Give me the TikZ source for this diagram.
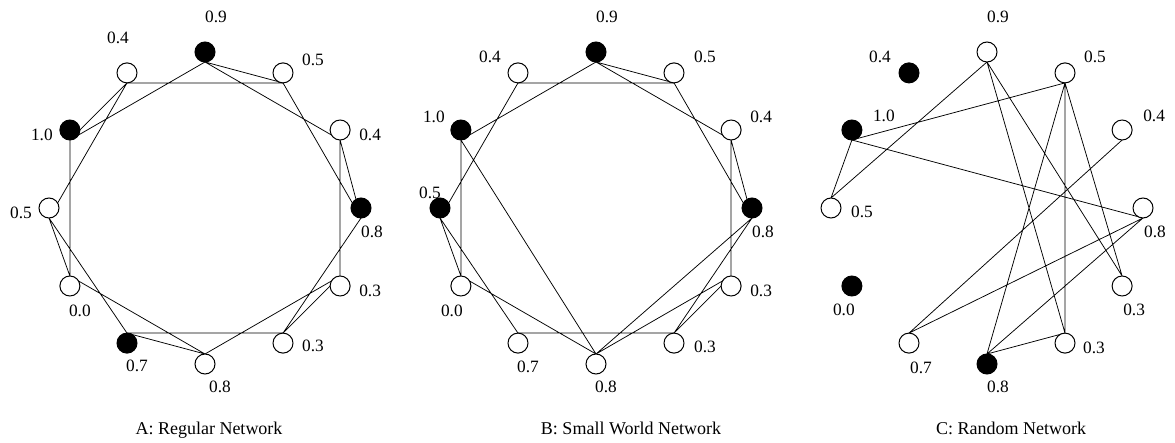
\documentclass[tikz,border=0pt]{standalone}
\usepackage{fontspec}
\setmainfont{Liberation Serif}
\usetikzlibrary{calc,backgrounds}

\begin{document}
\begin{tikzpicture}[x=1pt,y=1pt,
  agent/.style={circle,draw,line width=1pt,fill=white,minimum size=20pt,inner sep=0pt,outer sep=0pt},
  active/.style={agent,fill=black},
  val/.style={font=\fontsize{17.3}{20}\selectfont,inner sep=0pt},
  caption/.style={font=\fontsize{18}{21}\selectfont,anchor=base},
  tie/.style={line width=.75pt}]
\useasboundingbox (0,0) rectangle (1175,442);

% A: regular ring lattice
\begin{scope}[shift={(205,234)}]
\node[active] (a0) at (90:156) {};
\node[agent] (a1) at (60:156) {};
\node[agent] (a2) at (30:156) {};
\node[active] (a3) at (0:156) {};
\node[agent] (a4) at (-30:156) {};
\node[agent] (a5) at (-60:156) {};
\node[agent] (a6) at (-90:156) {};
\node[active] (a7) at (-120:156) {};
\node[agent] (a8) at (-150:156) {};
\node[agent] (a9) at (180:156) {};
\node[active] (a10) at (150:156) {};
\node[agent] (a11) at (120:156) {};
\end{scope}
\node[val] (la0) at ($(a0)+(11,35)$) {0.9};
\node[val] (la1) at ($(a1)+(30,13)$) {0.5};
\node[val] (la2) at ($(a2)+(30,-5)$) {0.4};
\node[val] (la3) at ($(a3)+(11,-24)$) {0.8};
\node[val] (la4) at ($(a4)+(30,-5)$) {0.3};
\node[val] (la5) at ($(a5)+(30,-3)$) {0.3};
\node[val] (la6) at ($(a6)+(15,-23)$) {0.8};
\node[val] (la7) at ($(a7)+(10,-23)$) {0.7};
\node[val] (la8) at ($(a8)+(10,-25)$) {0.0};
\node[val] (la9) at ($(a9)+(-28,-5)$) {0.5};
\node[val] (la10) at ($(a10)+(-28,-5)$) {1.0};
\node[val] (la11) at ($(a11)+(-9,35)$) {0.4};
\begin{scope}[on background layer]
\draw[tie] (a0.south)--(a1.south) (a0.south)--(a2.south) (a0.south)--(a10.south)
  (a1.south)--(a11.south) (a1.south)--(a3.south)
  (a2.south)--(a3.south) (a2.south)--(a4.north)
  (a3.south)--(a5.north)
  (a4.north)--(a5.north) (a4.north)--(a6.north)
  (a5.north)--(a7.north)
  (a6.north)--(a7.north) (a6.north)--(a8.north)
  (a7.north)--(a9.south)
  (a8.north)--(a9.south) (a8.north)--(a10.south)
  (a9.south)--(a11.south)
  (a10.south)--(a11.south);
\end{scope}
\node[caption] (capa) at (209,8) {A: Regular Network};

% B: two ties rewired
\begin{scope}[shift={(596,234)}]
\node[active] (b0) at (90:156) {};
\node[agent] (b1) at (60:156) {};
\node[agent] (b2) at (30:156) {};
\node[active] (b3) at (0:156) {};
\node[agent] (b4) at (-30:156) {};
\node[agent] (b5) at (-60:156) {};
\node[agent] (b6) at (-90:156) {};
\node[agent] (b7) at (-120:156) {};
\node[agent] (b8) at (-150:156) {};
\node[active] (b9) at (180:156) {};
\node[active] (b10) at (150:156) {};
\node[agent] (b11) at (120:156) {};
\end{scope}
\node[val] (lb0) at ($(b0)+(11,35)$) {0.9};
\node[val] (lb1) at ($(b1)+(31,16)$) {0.5};
\node[val] (lb2) at ($(b2)+(30,13)$) {0.4};
\node[val] (lb3) at ($(b3)+(11,-24)$) {0.8};
\node[val] (lb4) at ($(b4)+(30,-5)$) {0.3};
\node[val] (lb5) at ($(b5)+(31,-4)$) {0.3};
\node[val] (lb6) at ($(b6)+(10,-23)$) {0.8};
\node[val] (lb7) at ($(b7)+(10,-24)$) {0.7};
\node[val] (lb8) at ($(b8)+(-9,-25)$) {0.0};
\node[val] (lb9) at ($(b9)+(-10,15)$) {0.5};
\node[val] (lb10) at ($(b10)+(-27,13)$) {1.0};
\node[val] (lb11) at ($(b11)+(-28,16)$) {0.4};
\begin{scope}[on background layer]
\draw[tie] (b0.south)--(b1.south) (b0.south)--(b2.south) (b0.south)--(b10.south)
  (b1.south)--(b11.south) (b1.south)--(b3.south)
  (b2.south)--(b3.south) (b2.south)--(b4.north)
  (b3.south)--(b5.north) (b3.south)--(b6.north)
  (b4.north)--(b5.north) (b4.north)--(b6.north)
  (b5.north)--(b7.north)
  (b6.north)--(b8.north) (b6.north)--(b10.south)
  (b7.north)--(b9.south)
  (b8.north)--(b9.south) (b8.north)--(b10.south)
  (b9.south)--(b11.south);
\end{scope}
\node[caption] (capb) at (631,8) {B: Small World Network};

% C: random ties
\begin{scope}[shift={(987,234)}]
\node[agent] (c0) at (90:156) {};
\node[agent] (c1) at (60:156) {};
\node[agent] (c2) at (30:156) {};
\node[agent] (c3) at (0:156) {};
\node[agent] (c4) at (-30:156) {};
\node[agent] (c5) at (-60:156) {};
\node[active] (c6) at (-90:156) {};
\node[agent] (c7) at (-120:156) {};
\node[active] (c8) at (-150:156) {};
\node[agent] (c9) at (180:156) {};
\node[active] (c10) at (150:156) {};
\node[active] (c11) at (120:156) {};
\end{scope}
\node[val] (lc0) at ($(c0)+(11,35)$) {0.9};
\node[val] (lc1) at ($(c1)+(30,16)$) {0.5};
\node[val] (lc2) at ($(c2)+(32,14)$) {0.4};
\node[val] (lc3) at ($(c3)+(12,-24)$) {0.8};
\node[val] (lc4) at ($(c4)+(12,-24)$) {0.3};
\node[val] (lc5) at ($(c5)+(29,-5)$) {0.3};
\node[val] (lc6) at ($(c6)+(11,-23)$) {0.8};
\node[val] (lc7) at ($(c7)+(12,-25)$) {0.7};
\node[val] (lc8) at ($(c8)+(-8,-24)$) {0.0};
\node[val] (lc9) at ($(c9)+(31,-4)$) {0.5};
\node[val] (lc10) at ($(c10)+(32,14)$) {1.0};
\node[val] (lc11) at ($(c11)+(-29,16)$) {0.4};
\begin{scope}[on background layer]
\draw[tie] (c10.south)--(c1.south) (c10.south)--(c9.north) (c10.south)--(c3.south)
  (c9.north)--(c0.south)
  (c0.south)--(c5.north) (c0.south)--(c4.north)
  (c1.south)--(c6.north) (c1.south)--(c5.north) (c1.south)--(c4.north)
  (c2.south)--(c7.north)
  (c3.south)--(c7.north) (c3.south)--(c6.north)
  (c6.north)--(c5.north);
\end{scope}
\node[caption] (capc) at (1011,8) {C: Random Network};
\end{tikzpicture}
\end{document}
